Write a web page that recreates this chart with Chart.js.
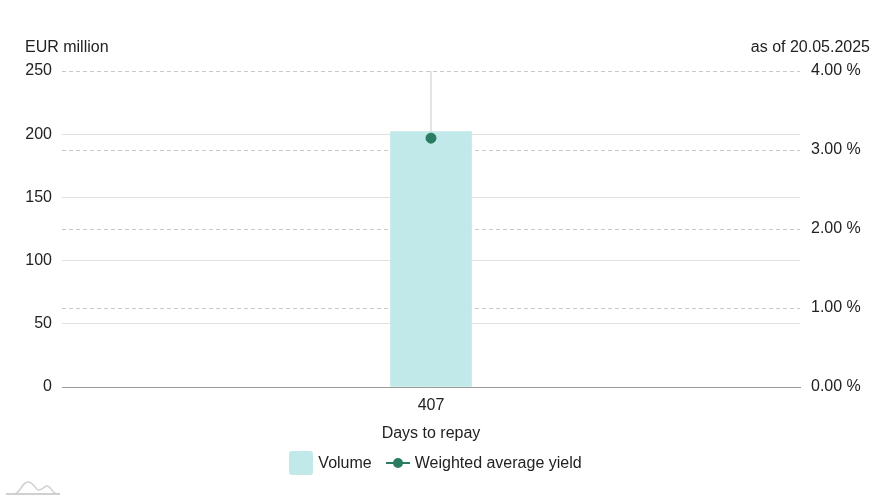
<!DOCTYPE html>
<html>
<head>
<meta charset="utf-8">
<script src="https://cdn.jsdelivr.net/npm/chart.js@4/dist/chart.umd.min.js"></script>
<style>
  html, body { margin: 0; padding: 0; background: #fff; }
  body { width: 891px; height: 500px; position: relative; overflow: hidden;
         font-family: "Liberation Sans", Arial, sans-serif; color: #222; }
  #wrap { position: absolute; left: 0; top: 0; width: 891px; height: 500px; }
  .lbl { position: absolute; font-size: 16px; line-height: 18px; white-space: nowrap; }
  #legend { position: absolute; left: 0; width: 871px; top: 451px; height: 24px;
            display: flex; justify-content: center; align-items: center; font-size: 16px; }
  .item { display: flex; align-items: center; margin: 0 7px; }
  .box { width: 24px; height: 24px; border-radius: 3px; margin-right: 5px; }
  .ln { position: relative; width: 24px; height: 12px; margin-right: 5px; }
  .ln:before { content: ""; position: absolute; left: 0; right: 0; top: 5px; height: 2px; background: #2a7d62; }
  .ln span { position: absolute; left: 7px; top: 1px; width: 10px; height: 10px; border-radius: 50%; }
</style>
</head>
<body>
<div id="wrap"><canvas id="c" width="891" height="500"></canvas></div>
<div class="lbl" id="tl" style="left:25px; top:38px;"></div>
<div class="lbl" id="tr" style="right:21px; top:38px;"></div>
<div id="legend"></div>
<svg style="position:absolute; left:4px; top:478px;" width="60" height="18" viewBox="0 0 60 18">
  <path d="M2 16 H56" stroke="#d0d0d0" stroke-width="2" fill="none"/>
  <path d="M10 16 C16 16 18 4 24 4 C30 4 31 12 35 12 C39 12 40 8 43 8 C47 8 48 16 54 16" stroke="#cfcfcf" stroke-width="1.5" fill="none"/>
</svg>
<script>
const categories = ["407"];
const volume = [202];
const yieldPct = [3.15];
const leftTicks = [0, 50, 100, 150, 200, 250];
const rightTicks = [0, 1, 2, 3, 4];
const leftTitle = "EUR million";
const rightTitle = "as of 20.05.2025";
const xTitle = "Days to repay";
const seriesNames = ["Volume", "Weighted average yield"];

const barColor = "#c2e9e9";
const pointColor = "#2a7d62";
const FONT = "'Liberation Sans', Arial, sans-serif";

document.getElementById('tl').textContent = leftTitle;
document.getElementById('tr').textContent = rightTitle;

const leg = document.getElementById('legend');
leg.innerHTML =
  '<div class="item"><div class="box" style="background:' + barColor + '"></div><span>' + seriesNames[0] + '</span></div>' +
  '<div class="item"><div class="ln"><span style="background:' + pointColor + '"></span></div><span>' + seriesNames[1] + '</span></div>';

new Chart(document.getElementById('c'), {
  data: {
    labels: categories,
    datasets: [
      { type: 'line', label: seriesNames[1], data: yieldPct, yAxisID: 'y1',
        borderColor: pointColor, backgroundColor: pointColor, pointRadius: 5,
        pointHoverRadius: 5, showLine: false, order: 0 },
      { type: 'bar', label: seriesNames[0], data: volume, yAxisID: 'y',
        backgroundColor: barColor, barThickness: 81, order: 1 }
    ]
  },
  options: {
    responsive: false,
    animation: false,
    events: [],
    layout: { padding: { left: 0, right: 0, top: 71, bottom: 54.4 } },
    plugins: { legend: { display: false }, tooltip: { enabled: false } },
    scales: {
      x: {
        grid: { offset: false, drawTicks: false, color: '#e4e4e4', lineWidth: 2 },
        border: { display: true, color: '#9a9a9a', width: 1 },
        ticks: { padding: 9, color: '#222', font: { family: FONT, size: 16 } },
        title: { display: true, text: xTitle, color: '#222', padding: { top: 2, bottom: 2 },
                 font: { family: FONT, size: 16 } },
        afterFit: s => { s.height = 58.6; }
      },
      y: {
        position: 'left', min: 0, max: 250,
        afterBuildTicks: s => { s.ticks = leftTicks.map(v => ({ value: v })); },
        grid: { drawTicks: false, lineWidth: 1,
                color: c => (c.tick && c.tick.value === 250) ? 'rgba(0,0,0,0)' : '#e0e0e0' },
        border: { display: false },
        ticks: { padding: 10, color: '#222', font: { family: FONT, size: 16 } },
        afterFit: s => { s.width = 62; }
      },
      y1: {
        position: 'right', min: 0, max: 4,
        afterBuildTicks: s => { s.ticks = rightTicks.map(v => ({ value: v })); },
        grid: { drawTicks: false, color: c => (c.tick && c.tick.value === 0) ? 'rgba(0,0,0,0)' : '#c8c8c8',
                lineWidth: 1 },
        border: { display: false, dash: [4, 3] },
        ticks: { padding: 11, color: '#222', font: { family: FONT, size: 16 },
                 callback: v => v.toFixed(2) + ' %' },
        afterFit: s => { s.width = 91; }
      }
    }
  }
});
</script>
</body>
</html>
